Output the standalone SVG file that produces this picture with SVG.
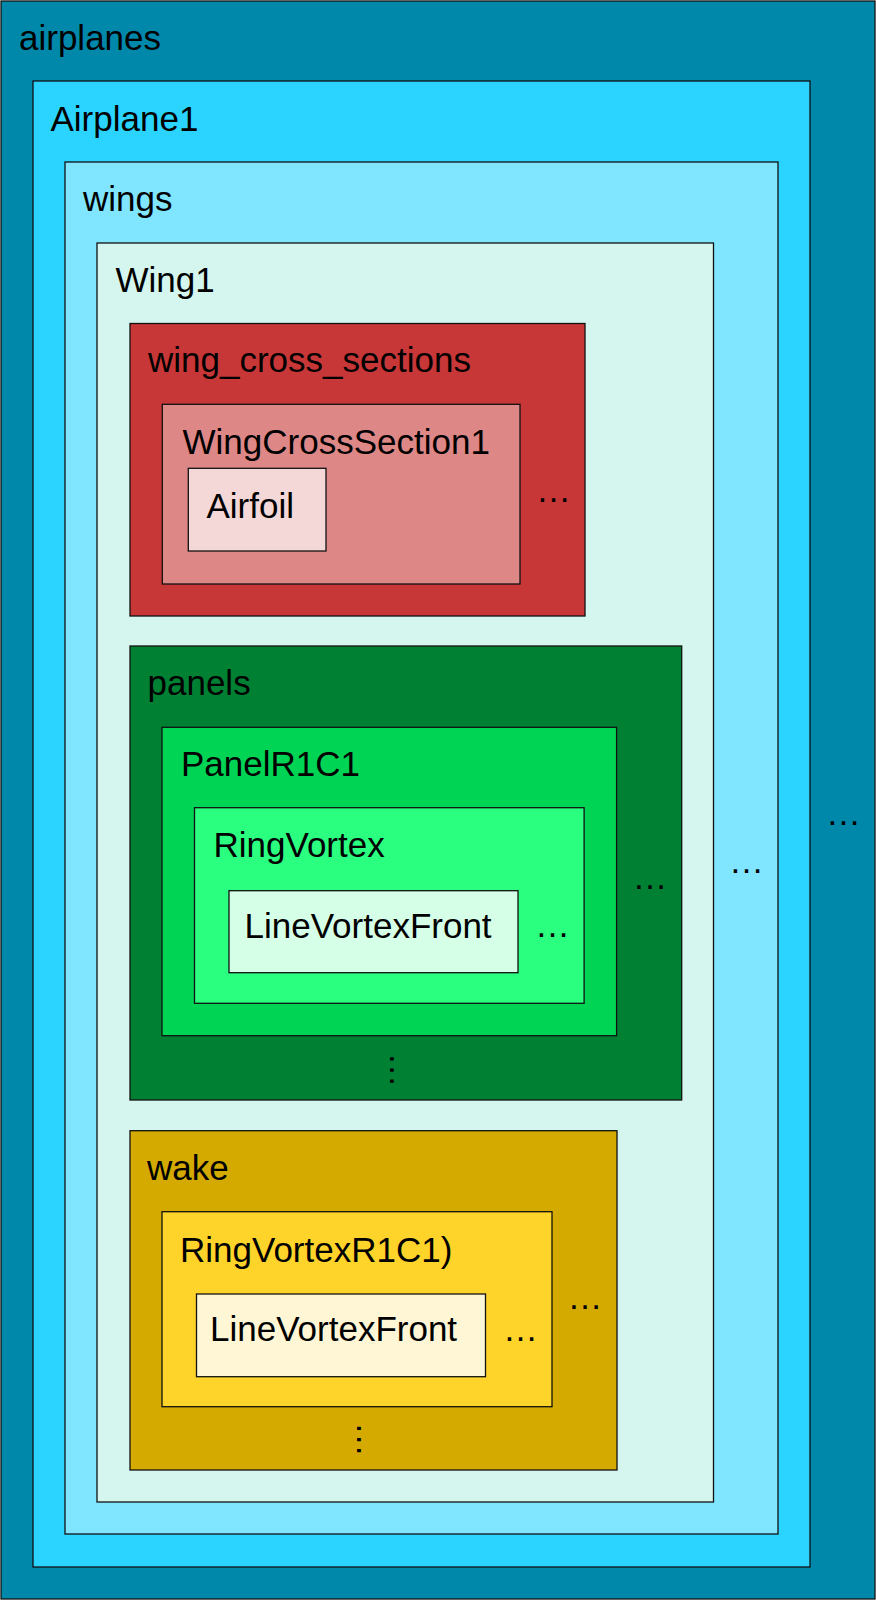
<svg xmlns="http://www.w3.org/2000/svg" width="876" height="1600" viewBox="0 0 876 1600">
<style>
rect { stroke: #111; stroke-width: 1.3; }
text { font-family: "Liberation Sans", Arial, sans-serif; font-size: 35px; fill: #000; }
.vdots { font-family: "Liberation Sans", Arial, sans-serif; }
</style>
<g id="airplanes">
  <rect x="1" y="1" width="874" height="1598" fill="#0088aa"/>
  <text x="19" y="50">airplanes</text>
  <text x="826" y="825">…</text>
</g>
<g id="airplane1">
  <rect x="33" y="81" width="777" height="1486" fill="#2ad4ff"/>
  <text x="50.5" y="131">Airplane1</text>
</g>
<g id="wings">
  <rect x="65" y="162" width="713" height="1372" fill="#80e5ff"/>
  <text x="83" y="211">wings</text>
  <text x="729" y="873">…</text>
</g>
<g id="wing1">
  <rect x="97" y="243" width="616.5" height="1259" fill="#d5f6ee"/>
  <text x="115.5" y="292">Wing1</text>
</g>
<g id="wing_cross_sections">
  <rect x="130" y="323.5" width="455" height="292.5" fill="#c83737"/>
  <text x="148" y="372">wing_cross_sections</text>
  <text x="536" y="502">…</text>
</g>
<g id="wingcrosssection1">
  <rect x="162.3" y="404.3" width="357.7" height="179.7" fill="#de8787"/>
  <text x="182.5" y="453.5">WingCrossSection1</text>
</g>
<g id="airfoil">
  <rect x="188.3" y="468.3" width="137.7" height="82.7" fill="#f4d7d7"/>
  <text x="206.5" y="517.5">Airfoil</text>
</g>
<g id="panels">
  <rect x="130" y="646" width="551.7" height="454" fill="#008033"/>
  <text x="147.5" y="695">panels</text>
  <text x="632.5" y="888.5">…</text>
  <text transform="translate(390 1052.5) rotate(90)">…</text>
</g>
<g id="panelr1c1">
  <rect x="162" y="727.3" width="454.6" height="308.4" fill="#00d455"/>
  <text x="181" y="776">PanelR1C1</text>
</g>
<g id="ringvortex">
  <rect x="194.5" y="807.7" width="389.6" height="195.6" fill="#2aff80"/>
  <text x="213.5" y="857">RingVortex</text>
  <text x="535" y="937">…</text>
</g>
<g id="linevortexfront1">
  <rect x="229" y="890.7" width="289" height="82" fill="#d5ffe6"/>
  <text x="244.5" y="937.5">LineVortexFront</text>
</g>
<g id="wake">
  <rect x="130" y="1130.7" width="487" height="339.3" fill="#d4aa00"/>
  <text x="147" y="1180">wake</text>
  <text x="567.5" y="1309">…</text>
  <text transform="translate(356.6 1422) rotate(90)">…</text>
</g>
<g id="ringvortexr1c1">
  <rect x="162" y="1211.7" width="390" height="195" fill="#ffd42a"/>
  <text x="180" y="1262">RingVortexR1C1)</text>
  <text x="503" y="1341">…</text>
</g>
<g id="linevortexfront2">
  <rect x="196.5" y="1294" width="289" height="82.7" fill="#fff6d5"/>
  <text x="210" y="1341">LineVortexFront</text>
</g>
<g id="connectors"></g>
</svg>
